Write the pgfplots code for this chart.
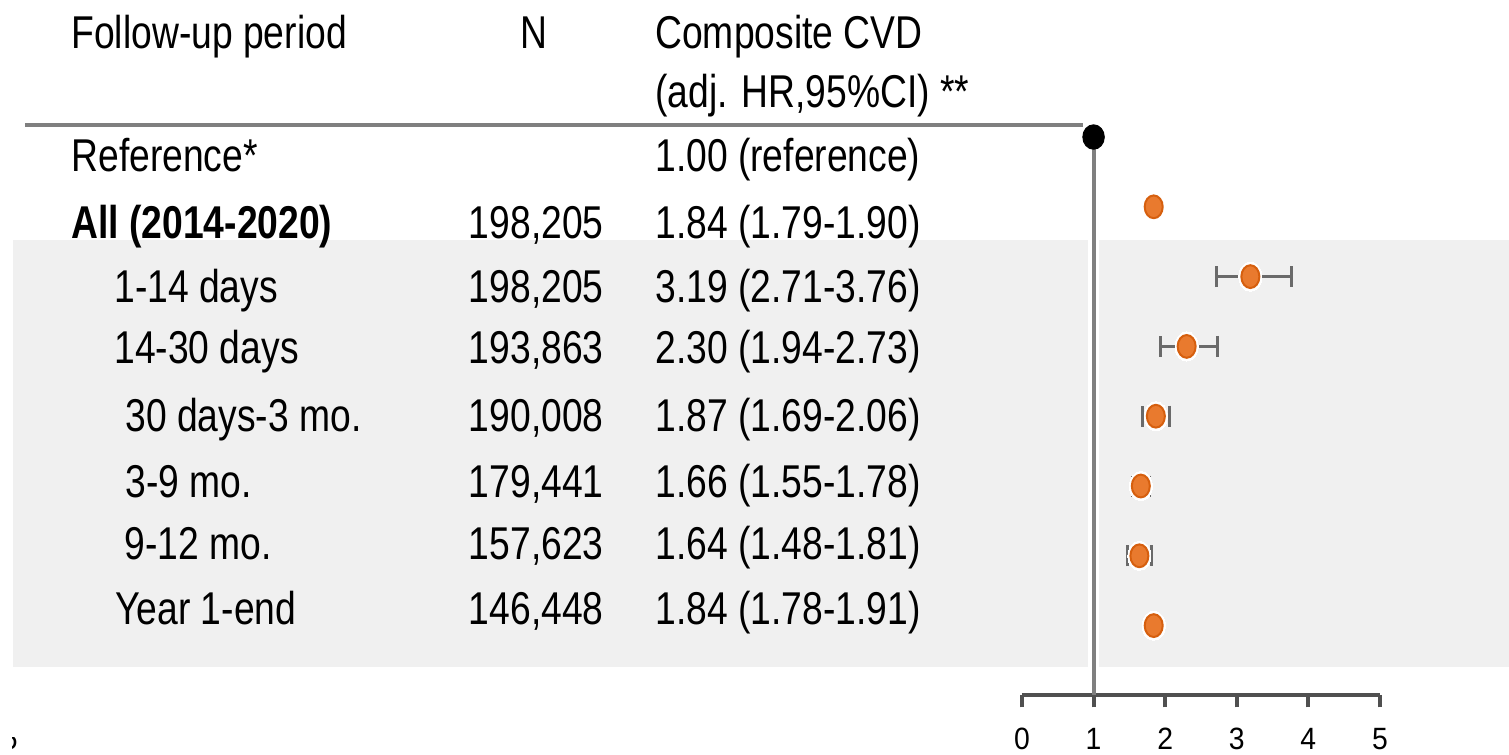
\documentclass[border=0pt]{standalone}
\usepackage{pgfplots}
\pgfplotsset{compat=1.18}
\usepackage{pgfplotstable}
\usepackage{fontspec}
\setmainfont{Liberation Sans}
\newfontfamily\cond[FakeStretch=0.81]{Liberation Sans}
\newfontfamily\tickf[FakeStretch=0.92]{Liberation Sans}
\definecolor{bandgray}{HTML}{F0F0F0}
\definecolor{linegray}{HTML}{7F7F7F}
\definecolor{axisgray}{HTML}{505050}
\definecolor{ebgray}{HTML}{6A6A6A}
\definecolor{dotorange}{HTML}{E97A2E}
\definecolor{dotedge}{HTML}{D65F0E}

\pgfdeclareplotmark{ellip}{%
  \pgfpathellipse{\pgfpointorigin}{\pgfpoint{0.79\pgfplotmarksize}{0pt}}{\pgfpoint{0pt}{\pgfplotmarksize}}%
  \pgfusepathqfillstroke}
\pgfdeclareplotmark{ellipb}{%
  \pgfpathellipse{\pgfpointorigin}{\pgfpoint{0.88\pgfplotmarksize}{0pt}}{\pgfpoint{0pt}{\pgfplotmarksize}}%
  \pgfusepathqfillstroke}

% y = -row index, hr, error minus, error plus
\pgfplotstableread{
y   hr   em   ep
-1  1.84 0.05 0.06
-2  3.19 0.48 0.57
-3  2.30 0.36 0.43
-4  1.87 0.18 0.19
-5  1.66 0.11 0.12
-6  1.64 0.16 0.17
-7  1.84 0.06 0.07
}\hrdata

\begin{document}
\begin{tikzpicture}
\begin{axis}[
  x=35.8pt, y=34.9pt,
  xmin=0, xmax=5, ymin=-8.0, ymax=1.963,
  clip=false,
  axis x line*=bottom,
  axis y line=none,
  ytick=\empty,
  xtick={0,1,2,3,4,5},
  tick align=outside,
  major tick length=6pt,
  axis line style={draw=axisgray, line width=2pt},
  xtick style={draw=axisgray, line width=2pt},
  /pgf/number format/assume math mode=true,
  xticklabel style={font=\tickf\fontsize{15.4}{18}\selectfont, anchor=base, yshift=-21.25pt, inner sep=0pt},
  nodes={inner sep=0pt, font=\cond\fontsize{23}{27}\selectfont, text=black},
]
% background band
\fill[bandgray] (axis cs:-14.092,-1.476) rectangle (axis cs:6.9,-7.600);
% white strip round the reference line
\draw[white, line width=5.5pt] (axis cs:1,-1.476) -- (axis cs:1,-7.600);
% reference line
\draw[linegray, line width=2pt] (axis cs:1,0) -- (axis cs:1,-8.0);
% header rule
\draw[linegray, line width=2pt] (axis cs:-13.925,0.179) -- (axis cs:0.852,0.179);

% error bars
\addplot[draw=none, forget plot,
  error bars/.cd, x dir=both, x explicit,
  error bar style={ebgray, line width=1.5pt},
  error mark=|,
  error mark options={ebgray, line width=1.5pt, mark size=5.25pt}]
  table[x=hr, y=y, x error minus=em, x error plus=ep] {\hrdata};
% halos
\addplot[only marks, mark=ellip, mark size=7.3pt, forget plot, color=white,
  mark options={fill=white, draw=white, line width=0pt}]
  table[x=hr, y=y] {\hrdata};
% estimates
\addplot[only marks, mark=ellip, mark size=5.7pt, color=dotedge,
  mark options={fill=dotorange, draw=dotedge, line width=1pt}]
  table[x=hr, y=y] {\hrdata};
% reference point
\addplot[only marks, mark=ellipb, mark size=6.1pt, color=black,
  mark options={fill=black, draw=black, line width=0.5pt}]
  coordinates {(1,0)};

% header texts
\node[anchor=base west] at (axis cs:-13.282,1.275) {Follow-up period};
\node[anchor=base] at (axis cs:-6.816,1.275) {N};
\node[anchor=base west] at (axis cs:-5.126,1.275) {Composite CVD};
\node[anchor=base west] at (axis cs:-5.126,0.430) {(adj. HR,95\%CI) **};

% column 1
\node[anchor=base west] at (axis cs:-13.282,-0.501) {Reference*};
\node[anchor=base west] at (axis cs:-13.282,-1.447) {\bfseries All (2014-2020)};
\node[anchor=base west] at (axis cs:-12.682,-2.364) {1-14 days};
\node[anchor=base west] at (axis cs:-12.682,-3.238) {14-30 days};
\node[anchor=base west] at (axis cs:-12.528,-4.226) {30 days-3 mo.};
\node[anchor=base west] at (axis cs:-12.528,-5.158) {3-9 mo.};
\node[anchor=base west] at (axis cs:-12.542,-6.060) {9-12 mo.};
\node[anchor=base west] at (axis cs:-12.668,-6.991) {Year 1-end};

% column N
\node[anchor=base east] at (axis cs:-5.838,-1.447) {198,205};
\node[anchor=base east] at (axis cs:-5.838,-2.364) {198,205};
\node[anchor=base east] at (axis cs:-5.838,-3.238) {193,863};
\node[anchor=base east] at (axis cs:-5.838,-4.226) {190,008};
\node[anchor=base east] at (axis cs:-5.838,-5.158) {179,441};
\node[anchor=base east] at (axis cs:-5.838,-6.060) {157,623};
\node[anchor=base east] at (axis cs:-5.838,-6.991) {146,448};

% column HR
\node[anchor=base west] at (axis cs:-5.126,-0.501) {1.00 (reference)};
\node[anchor=base west] at (axis cs:-5.126,-1.447) {1.84 (1.79-1.90)};
\node[anchor=base west] at (axis cs:-5.126,-2.364) {3.19 (2.71-3.76)};
\node[anchor=base west] at (axis cs:-5.126,-3.238) {2.30 (1.94-2.73)};
\node[anchor=base west] at (axis cs:-5.126,-4.226) {1.87 (1.69-2.06)};
\node[anchor=base west] at (axis cs:-5.126,-5.158) {1.66 (1.55-1.78)};
\node[anchor=base west] at (axis cs:-5.126,-6.060) {1.64 (1.48-1.81)};
\node[anchor=base west] at (axis cs:-5.126,-6.991) {1.84 (1.78-1.91)};

% clipped fragment at the lower left (cut by the original crop)
\begin{scope}
\clip (axis cs:-14.095,-8.60) rectangle (axis cs:-13.9,-8.84);
\node[anchor=base east, font=\tickf\fontsize{15.4}{18}\selectfont] at (axis cs:-14.022,-8.782) {5};
\end{scope}

\coordinate (bbA) at (axis cs:-14.274,-8.840);
\coordinate (bbB) at (axis cs:6.802,1.963);
\end{axis}
\pgfresetboundingbox
\path[use as bounding box] (bbA) rectangle (bbB);
\end{tikzpicture}
\end{document}
